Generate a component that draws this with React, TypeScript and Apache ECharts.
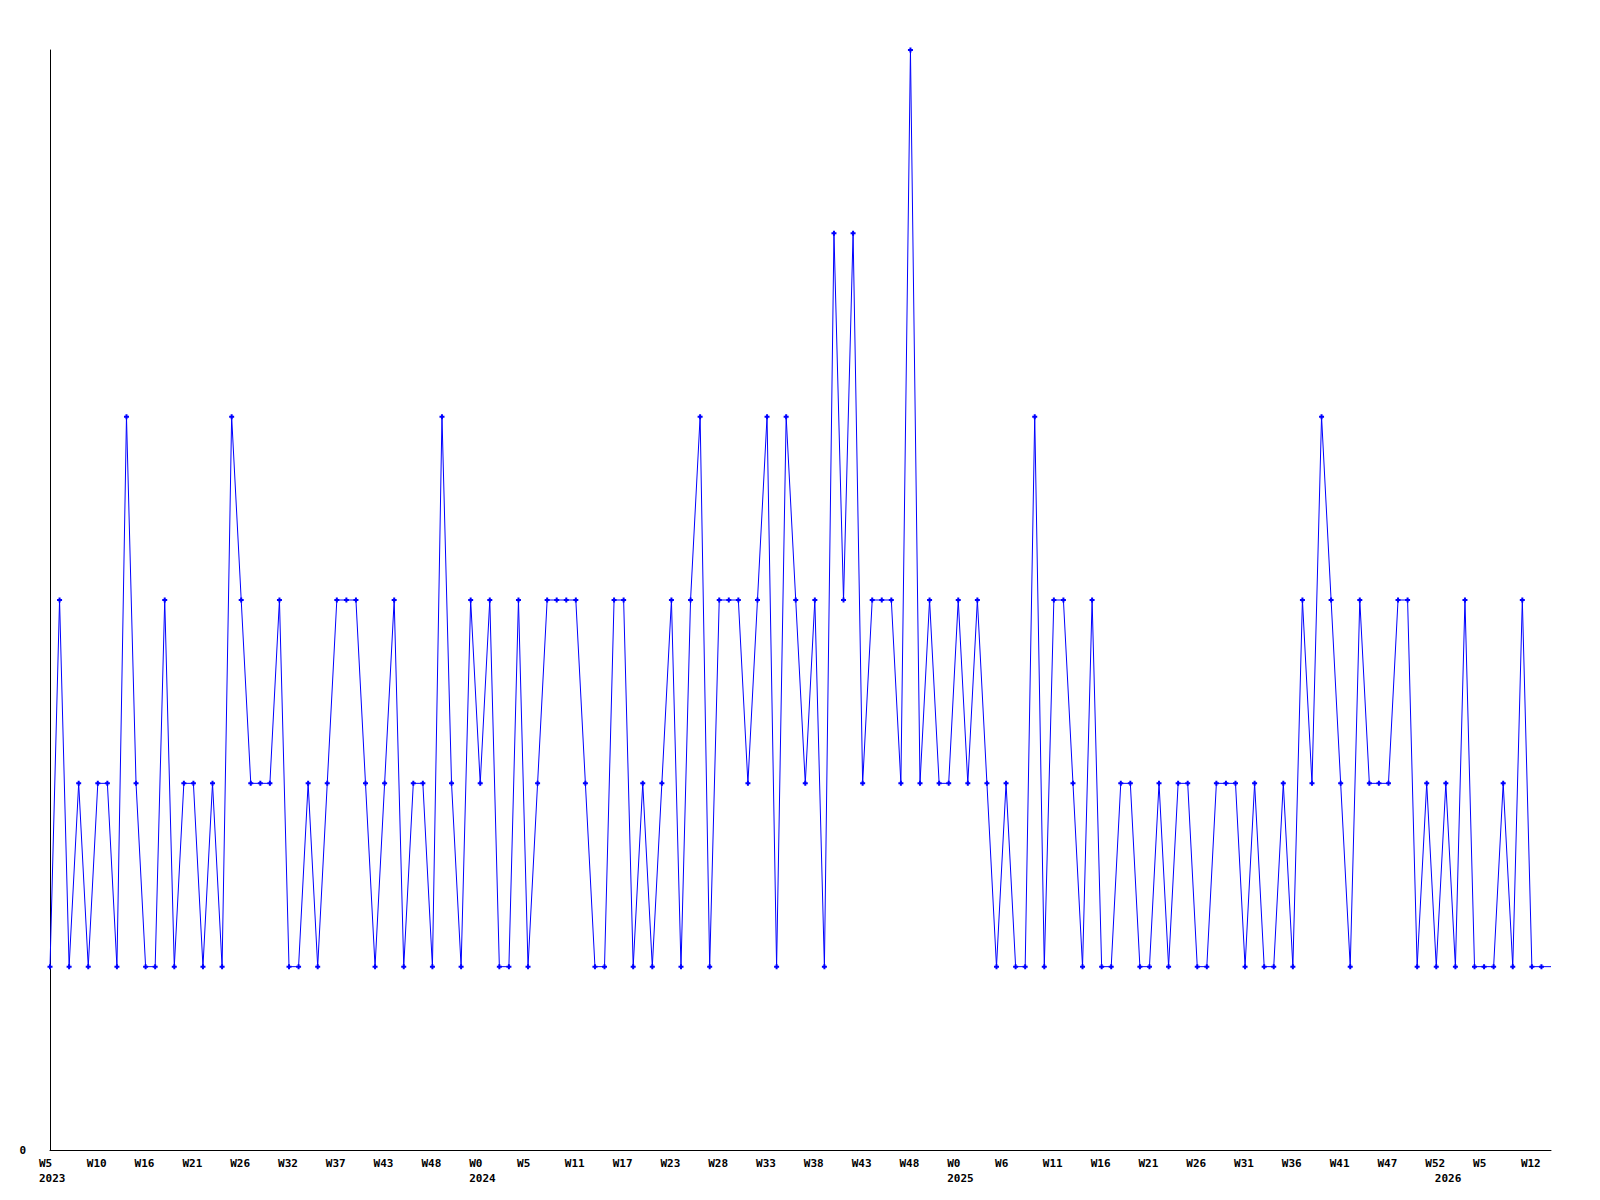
import React, { useEffect, useRef } from "react";
import * as echarts from "echarts";

// Week numbers present in the data, per year (gaps = weeks without a point)
const weeks2023 = [5, 6, 7, 8, 9, 10, 11, 12, 13, 14, 16, 17, 18, 19, 20, 21, 22, 23, 24, 25, 26, 27, 28, 29, 30, 32, 33, 34, 35, 36, 37, 38, 39, 40, 41, 43, 44, 45, 46, 47, 48, 49, 50, 51, 52];
const weeks2024 = [0, 1, 2, 3, 4, 5, 6, 7, 8, 9, 11, 12, 13, 14, 15, 17, 18, 19, 20, 21, 23, 24, 25, 26, 27, 28, 29, 30, 31, 32, 33, 34, 35, 36, 37, 38, 39, 40, 41, 42, 43, 44, 45, 46, 47, 48, 49, 50, 51, 52];
const weeks2025 = [0, 1, 2, 3, 4, 6, 7, 8, 9, 10, 11, 12, 13, 14, 15, 16, 17, 18, 19, 20, 21, 22, 23, 24, 25, 26, 27, 28, 29, 30, 31, 32, 33, 34, 35, 36, 37, 38, 39, 40, 41, 42, 43, 44, 45, 47, 48, 49, 50, 51, 52];
const weeks2026 = [0, 1, 2, 3, 5, 6, 7, 9, 10, 12, 13, 14];

const categories: string[] = [
  ...weeks2023.map((w) => `2023 W${w}`),
  ...weeks2024.map((w) => `2024 W${w}`),
  ...weeks2025.map((w) => `2025 W${w}`),
  ...weeks2026.map((w) => `2026 W${w}`),
];

const values = [
  1, 3, 1, 2, 1, 2, 2, 1, 4, 2,
  1, 1, 3, 1, 2, 2, 1, 2, 1, 4,
  3, 2, 2, 2, 3, 1, 1, 2, 1, 2,
  3, 3, 3, 2, 1, 2, 3, 1, 2, 2,
  1, 4, 2, 1, 3, 2, 3, 1, 1, 3,
  1, 2, 3, 3, 3, 3, 2, 1, 1, 3,
  3, 1, 2, 1, 2, 3, 1, 3, 4, 1,
  3, 3, 3, 2, 3, 4, 1, 4, 3, 2,
  3, 1, 5, 3, 5, 2, 3, 3, 3, 2,
  6, 2, 3, 2, 2, 3, 2, 3, 2, 1,
  2, 1, 1, 4, 1, 3, 3, 2, 1, 3,
  1, 1, 2, 2, 1, 1, 2, 1, 2, 2,
  1, 1, 2, 2, 2, 1, 2, 1, 1, 2,
  1, 3, 2, 4, 3, 2, 1, 3, 2, 2,
  2, 3, 3, 1, 2, 1, 2, 1, 3, 1,
  1, 1, 2, 1, 3, 1, 1, 1,
];

const yearLabels = ["2023", "2024", "2025", "2026"];
const yMin = 0;
const yMax = 6;

const FONT = "'DejaVu Sans Mono', monospace";
const BLUE = "#0000ff";

export default function App() {
  const ref = useRef<HTMLDivElement>(null);

  useEffect(() => {
    document.body.style.margin = "0";
    if (!ref.current) return;
    const chart = echarts.init(ref.current, null, { renderer: "svg" });

    // index of the first point of each year
    const yearStart: Record<number, string> = {};
    categories.forEach((c, i) => {
      const y = c.split(" ")[0];
      if (i === 0 || categories[i - 1].split(" ")[0] !== y) yearStart[i] = y;
    });

    const labelRich = {
      w: {
        width: 22,
        align: "left" as const,
        fontFamily: FONT,
        fontSize: 11,
        fontWeight: "bold" as const,
        color: "#000",
      },
    };

    const data = values.map((v, i) =>
      i === values.length - 1 ? { value: v, symbol: "none" } : v
    );

    chart.setOption({
      animation: false,
      backgroundColor: "#ffffff",
      grid: { left: 50, right: 49, top: 50, bottom: 50, containLabel: false },
      xAxis: [
        {
          type: "category",
          data: categories,
          boundaryGap: false,
          axisLine: { show: true, lineStyle: { color: "#000", width: 1 } },
          axisTick: { show: false },
          splitLine: { show: false },
          axisLabel: {
            interval: 4,
            margin: 8,
            formatter: (v: string) => `{w|${v.split(" ")[1]}}`,
            rich: labelRich,
          },
        },
        {
          type: "category",
          data: categories,
          boundaryGap: false,
          position: "bottom",
          axisLine: { show: false },
          axisTick: { show: false },
          splitLine: { show: false },
          axisLabel: {
            interval: (i: number) => yearStart[i] !== undefined,
            margin: 23,
            formatter: (v: string) => {
              const y = v.split(" ")[0];
              return yearLabels.includes(y) ? `{w|${y}}` : "";
            },
            rich: { w: { ...labelRich.w, width: 22 } },
          },
        },
      ],
      yAxis: {
        type: "value",
        min: yMin,
        max: yMax,
        interval: 6,
        axisLine: { show: true, lineStyle: { color: "#000", width: 1 } },
        axisTick: { show: false },
        splitLine: { show: false },
        axisLabel: {
          margin: 24,
          verticalAlign: "middle",
          fontFamily: FONT,
          fontSize: 11,
          fontWeight: "bold",
          color: "#000",
          formatter: (v: number) => (v === 0 ? "0" : ""),
        },
      },
      series: [
        {
          type: "line",
          xAxisIndex: 0,
          data,
          symbol: "path://M1.5,0H3.5V1.5H5V3.5H3.5V5H1.5V3.5H0V1.5H1.5Z",
          symbolSize: 5,
          showAllSymbol: true,
          lineStyle: { color: BLUE, width: 1 },
          itemStyle: { color: BLUE },
        },
      ],
    });

    return () => chart.dispose();
  }, []);

  return <div ref={ref} style={{ width: 1600, height: 1200 }} />;
}
